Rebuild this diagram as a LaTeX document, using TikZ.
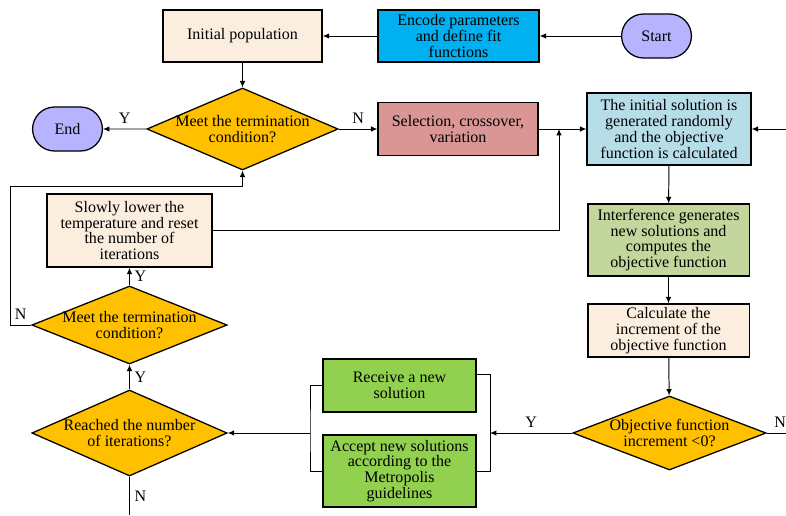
\documentclass[tikz,border=0pt]{standalone}
\usepackage{fontspec}
\setmainfont{Liberation Serif}
\usepackage{tikz}
\usetikzlibrary{positioning,shapes,arrows.meta}

\definecolor{beige}{HTML}{FBEEDF}
\definecolor{encblue}{HTML}{00B0F0}
\definecolor{lavender}{HTML}{B7B3FF}
\definecolor{gold}{HTML}{FFC000}
\definecolor{rose}{HTML}{D99694}
\definecolor{skyblue}{HTML}{B7DEE8}
\definecolor{olive}{HTML}{C3D69B}
\definecolor{leafgreen}{HTML}{92D050}

\tikzset{
procnode/.style={rectangle, draw=black, line width=0.9pt, inner sep=1pt},
decnode/.style={diamond, draw=black, line width=0.9pt, fill=gold, aspect=2.4, inner sep=-0.1cm},
termnode/.style={rounded rectangle, draw=black, line width=0.9pt, fill=lavender,
                 minimum width=1.98cm, minimum height=1.1cm},
>={Latex[width=1.4mm,length=1.6mm]}
}

\begin{document}
\begin{tikzpicture}[x=0.025cm, y=-0.025cm, align=center, line width=0.7pt,
  font=\fontsize{11.4}{11.3}\selectfont]
\useasboundingbox (0,0) rectangle (786,515);

%Flowchart nodes
\node[termnode] (start) at (656.5,36) {Start};
\node[procnode, fill=encblue, minimum width=4.03cm, minimum height=1.3cm] (encode) at (458.5,36) {Encode parameters\\and define fit\\functions};
\node[procnode, fill=beige, minimum width=3.98cm, minimum height=1.3cm] (initpop) at (242.5,36) {Initial population};
\node[decnode, minimum width=4.78cm, minimum height=2.05cm] (term1) at (242.5,129) {Meet the termination\\condition?};
\node[termnode] (stopnode) at (67.5,129) {End};
\node[procnode, fill=rose, minimum width=4cm, minimum height=1.33cm] (select) at (458,129) {Selection, crossover,\\variation};
\node[procnode, fill=skyblue, minimum width=4.1cm, minimum height=1.8cm] (initsol) at (669,129) {The initial solution is\\generated randomly\\and the objective\\function is calculated};
\node[procnode, fill=olive, minimum width=4.03cm, minimum height=1.8cm] (interf) at (668.5,240) {Interference generates\\new solutions and\\computes the\\objective function};
\node[procnode, fill=beige, minimum width=4.03cm, minimum height=1.33cm] (calc) at (668.5,330.5) {Calculate the\\increment of the\\objective function};
\node[decnode, aspect=2.6, minimum width=4.83cm, minimum height=1.85cm] (objdec) at (669.5,433) {Objective function\\increment <0?};
\node[procnode, fill=leafgreen, minimum width=3.83cm, minimum height=1.33cm] (receive) at (399.5,385.5) {Receive a new\\solution};
\node[procnode, fill=leafgreen, minimum width=3.83cm, minimum height=1.8cm] (accept) at (399.5,471) {Accept new solutions\\according to the\\Metropolis\\guidelines};
\node[decnode, minimum width=4.88cm, minimum height=2.15cm] (reached) at (129.5,433) {Reached the number\\of iterations?};
\node[decnode, minimum width=4.88cm, minimum height=1.95cm] (term2) at (129.5,325) {Meet the termination\\condition?};
\node[procnode, fill=beige, minimum width=4.13cm, minimum height=1.83cm] (slowly) at (129.5,230.5) {Slowly lower the\\temperature and reset\\the number of\\iterations};

% junctions and loose ends
\coordinate (merge) at (559,129);
\coordinate (nloop) at (10,186);
\coordinate (rjoin) at (490,433);
\coordinate (ljoin) at (310,433);
\coordinate (rightin) at (786,129);
\coordinate (rightout) at (786,433);
\coordinate (bottomout) at (129.5,515);

\draw[->] (start) -- (encode);
\draw[->] (encode) -- (initpop);
\draw[->] (initpop) -- (term1);
\draw[->] (term1) --node[above]{Y} (stopnode);
\draw[->] (term1) --node[above]{N} (select);
\draw[->] (select) -- (initsol);
\draw[->] (rightin) -- (initsol);
\draw[->] (initsol) -- (interf);
\draw[->] (interf) -- (calc);
\draw[->] (calc) -- (objdec);
\draw (objdec) --node[above,pos=0.7]{N} (rightout);
\draw[->] (objdec) --node[above]{Y} (rjoin);
\draw ([yshift=0.28cm]receive.east) -| (rjoin) |- (accept.east);
\draw (receive.west) -| (ljoin) |- (accept.west);
\draw[->] (ljoin) -- (reached);
\draw (reached) --node[right]{N} (bottomout);
\draw[->] (reached) --node[right]{Y} (term2);
\draw[->] (term2) --node[right]{Y} (slowly);
\draw[->] (term2.west) -| node[pos=0.25,above]{N} (nloop) -| (term1.south);
\draw[->] (slowly.east) -| (merge);

\end{tikzpicture}
\end{document}
